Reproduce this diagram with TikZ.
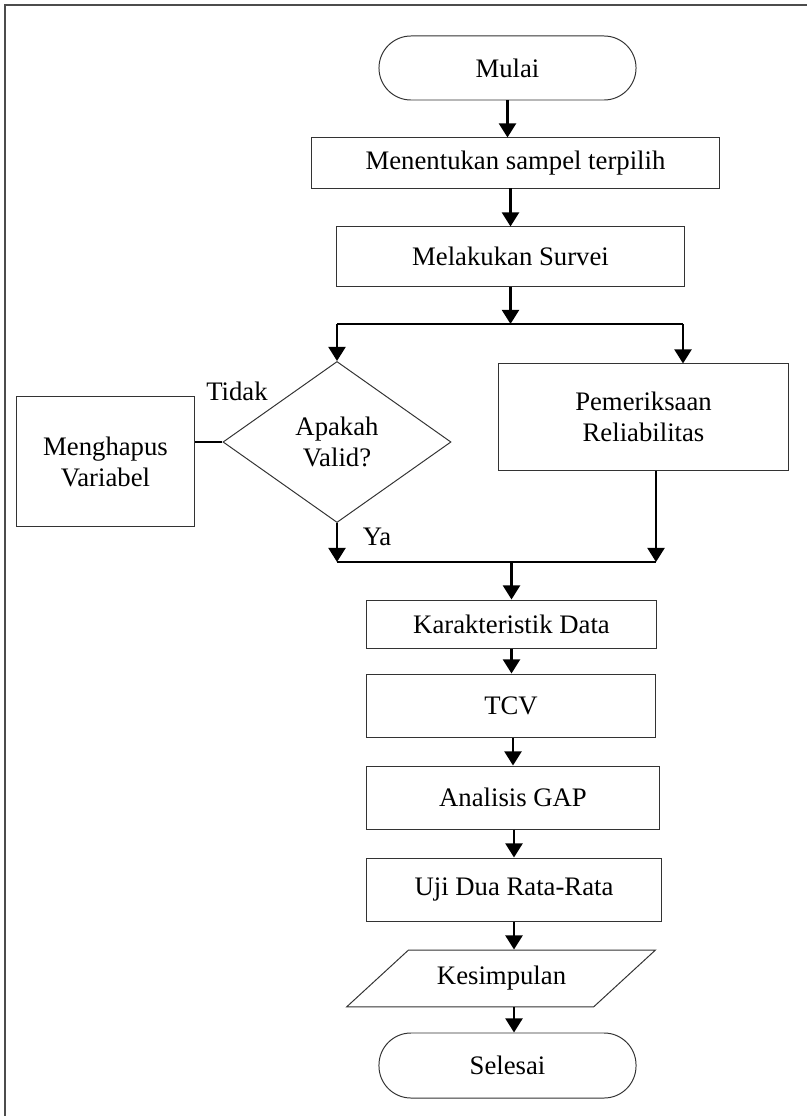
\documentclass[tikz,border=0pt]{standalone}
\usepackage{fontspec}
\setmainfont{Liberation Serif}
\usetikzlibrary{shapes.geometric,arrows.meta}

\begin{document}
\begin{tikzpicture}[x=0.025cm,y=-0.025cm,
        font=\fontsize{19}{22}\selectfont,
        proses/.style={rectangle,draw=black!80,line width=0.7pt,align=center,inner sep=0pt},
        terminal/.style={rectangle,rounded corners=0.8cm,draw=black!80,line width=0.7pt,inner sep=0pt,minimum width=6.425cm},
        keputusan/.style={diamond,draw=black!80,line width=0.7pt,align=center,inner sep=0pt,aspect=1.416,minimum width=5.7cm,minimum height=4.025cm},
        data/.style={trapezium,trapezium left angle=42.6,trapezium right angle=137.4,draw=black!80,line width=0.7pt,
            text width=3.2cm,align=center,text height=13pt,text depth=4.5pt,inner xsep=0.7125cm,inner ysep=11.5pt,
            minimum width=0pt,minimum height=0pt},
        panah/.style={line width=1.8pt,-{Triangle[width=12pt,length=10pt]}},
        garis/.style={line width=1.8pt}]

    \useasboundingbox (0,0) rectangle (807,1116);
    \draw[black!70,line width=1.4pt] (5,1116) -- (5,5) -- (807,5);

    % Terminal nodes
    \node[terminal,minimum height=1.6cm] (mulai) at (507.5,68) {Mulai};
    \node[terminal,minimum height=1.625cm] (selesai) at (507.5,1065.5) {Selesai};

    % Process nodes
    \node[proses,minimum width=10.175cm,minimum height=1.25cm] (tentukan) at (515.5,163) {Menentukan sampel terpilih};
    \node[proses,minimum width=8.675cm,minimum height=1.475cm] (survei) at (510.5,256.5) {Melakukan Survei};
    \node[proses,minimum width=4.425cm,minimum height=3.225cm] (hapus) at (105.5,461.5) {Menghapus\\Variabel};
    \node[proses,minimum width=7.225cm,minimum height=2.65cm] (periksa) at (643.5,417) {Pemeriksaan\\Reliabilitas};
    \node[proses,minimum width=7.225cm,minimum height=1.2cm] (karakter) at (511.5,624) {Karakteristik Data};
    \node[proses,minimum width=7.2cm,minimum height=1.575cm] (tcv) at (511,705.5) {TCV};
    \node[proses,minimum width=7.3cm,minimum height=1.575cm] (gap) at (513,797.5) {Analisis GAP};
    \node[proses,minimum width=7.35cm,minimum height=1.575cm] (uji) at (514,889.5) {Uji Dua Rata-Rata};

    % Decision and output
    \node[keputusan] (valid) at (337,442) {Apakah\\Valid?};
    \node[data] (simpul) at (501,978.5) {Kesimpulan};

    % Labels
    \node (tidak) at (237,391) {Tidak};
    \node (ya) at (377,537) {Ya};

    % Branch and join points
    \coordinate (bkiri) at (337,324);
    \coordinate (bkanan) at (683,324);
    \coordinate (gkiri) at (337,562);
    \coordinate (gkanan) at (656,562);

    % Edges
    \draw[panah] (mulai.south) -- (mulai.south |- tentukan.north);
    \draw[panah] (survei.north |- tentukan.south) -- (survei.north);
    \draw[panah] (survei.south) -- (survei.south |- bkiri);
    \draw[garis] (bkiri) -- (bkanan);
    \draw[panah] (bkiri) -- (valid.north);
    \draw[panah] (bkanan) -- (bkanan |- periksa.north);

    \draw[garis] (valid.west) -- (valid.west -| hapus.east);
    \draw[panah] (valid.south) -- (gkiri);
    \draw[panah] (gkanan |- periksa.south) -- (gkanan);
    \draw[garis] (gkiri) -- (gkanan);

    \draw[panah] (karakter.north |- gkiri) -- (karakter.north);
    \draw[panah] (karakter.south) -- (karakter.south |- tcv.north);
    \draw[panah] (gap.north |- tcv.south) -- (gap.north);
    \draw[panah] (uji.north |- gap.south) -- (uji.north);
    \draw[panah] (uji.south) -- (uji.south |- simpul.north);
    \draw[panah] (uji.south |- simpul.south) -- (uji.south |- selesai.north);

\end{tikzpicture}
\end{document}
